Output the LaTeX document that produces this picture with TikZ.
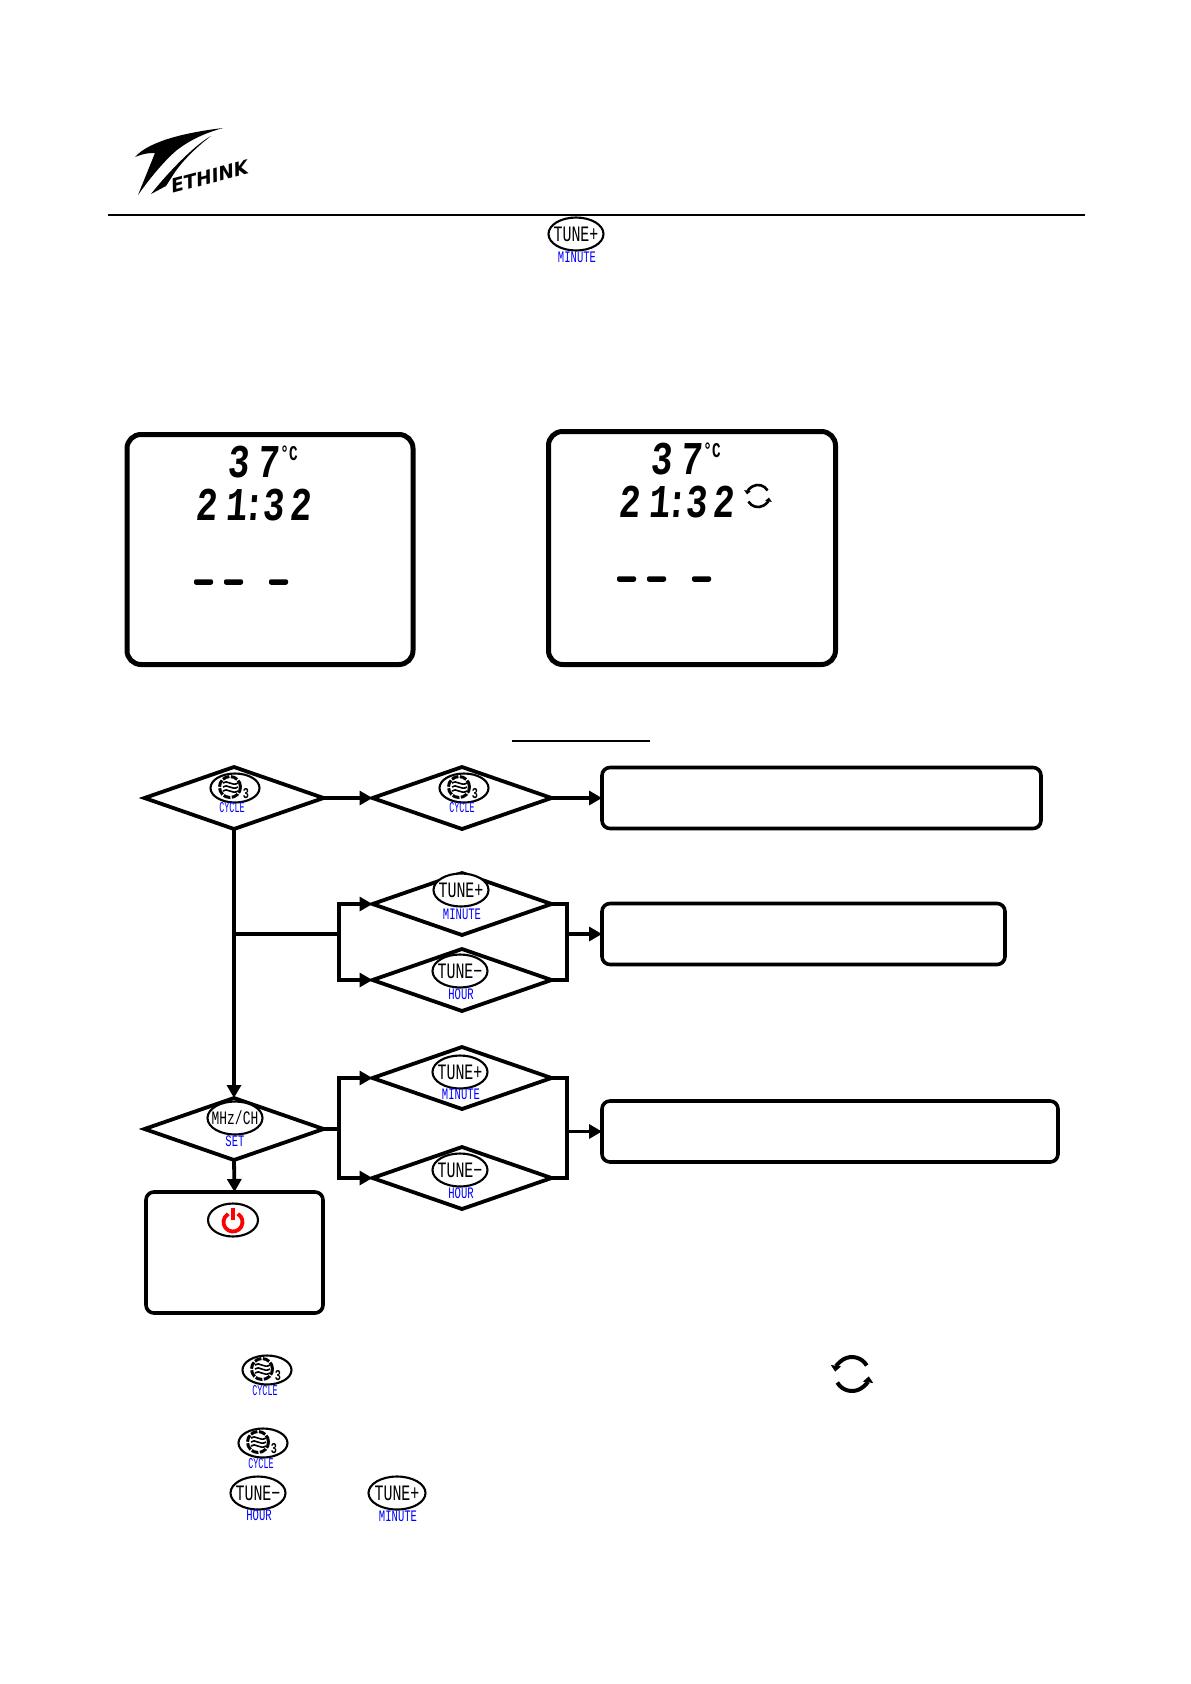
\documentclass[tikz,border=0pt]{standalone}
\usepackage{fontspec}
\usetikzlibrary{shapes.geometric,arrows.meta}
\newfontfamily\keyfont[FakeStretch=.68]{Liberation Mono}
\newfontfamily\capfont[FakeStretch=.66]{Liberation Mono}
\newfontfamily\narrowfont[FakeStretch=.56]{Liberation Mono}
\newfontfamily\lcdfont[FakeStretch=.76,FakeSlant=.08]{Liberation Mono}
\newfontfamily\logofont[FakeSlant=.25]{DejaVu Sans}
\tikzset{
  flow/.style={line width=3.8pt},
  flowarrow/.style={flow,-{Triangle[length=13pt,width=14pt]}},
  question/.style={diamond,draw,line width=3.8pt,minimum width=179pt,minimum height=62pt,inner sep=0pt,outer sep=0pt},
  result/.style={draw,line width=3.6pt,rounded corners=8pt,inner sep=0pt,outer sep=0pt,minimum height=61pt},
  screen/.style={draw,line width=5pt,rounded corners=14pt,inner sep=0pt,outer sep=0pt},
  keyoval/.style={ellipse,draw,fill=white,line width=2.1pt,inner sep=-8pt,minimum width=55pt,minimum height=33pt,
    font={\keyfont\fontsize{22}{22}\selectfont}},
  keycap/.style={inner sep=0pt,text=blue,font={\capfont\fontsize{16}{16}\selectfont}},
  cyclecap/.style={inner sep=0pt,text=blue,font={\narrowfont\fontsize{15}{15}\selectfont}},
  lcddash/.style={fill=black,rounded corners=2pt,inner sep=0pt,minimum width=19pt,minimum height=5.5pt},
  cyclekey/.pic={
    \node[keyoval,minimum width=49pt,minimum height=29pt] (-oval) at (0,0) {};
    \draw[line width=3pt,dash pattern=on 7pt off 1.5pt] (-5,-1) circle[radius=10.5pt];
    \draw[line width=1.6pt] (-12,-5) .. controls (-8,-9) and (-3,-1) .. (3,-5);
    \draw[line width=1.6pt] (-12,-1) .. controls (-8,-5) and (-3,3) .. (3,-1);
    \draw[line width=1.6pt] (-12,3) .. controls (-8,-1) and (-3,7) .. (3,3);
    \node[inner sep=0pt,font={\keyfont\bfseries\fontsize{15}{15}\selectfont}] (-three) at (11,6) {3};
  },
  loopicon/.pic={
    \draw[line width=#1,-{Triangle[length=0pt 1.5,width=0pt 2.5]}] (14.7,-8.5) arc[start angle=30,end angle=172,radius=17pt];
    \draw[line width=#1,-{Triangle[length=0pt 1.5,width=0pt 2.5]}] (-14.7,8.5) arc[start angle=210,end angle=352,radius=17pt];
  },
  powericon/.pic={
    \draw[red,line width=3.8pt] (4.75,-8.2) arc[start angle=60,end angle=-240,radius=9.5pt];
    \draw[red,line width=3.8pt] (0,-14) -- (0,-2);
  },
  lcdreadout/.pic={
    \node[inner sep=0pt,font={\lcdfont\bfseries\fontsize{47}{47}\selectfont}] (-temp) at (-17,-43) {3\kern8.6pt 7};
    \node[inner sep=0pt,font={\keyfont\bfseries\fontsize{21}{21}\selectfont}] (-unit) at (19,-52) {°C};
    \node[inner sep=0pt,font={\lcdfont\bfseries\fontsize{47}{47}\selectfont}] (-time) at (-17,0) {2\kern8.6pt 1\kern-4.4pt:\kern-1.4pt 3\kern5.6pt 2};
    \node[lcddash] (-dashA) at (-66.5,77) {};
    \node[lcddash] (-dashB) at (-36.5,77) {};
    \node[lcddash] (-dashC) at (8.5,77) {};
  }
}
\begin{document}
\begin{tikzpicture}[x=1pt,y=-1pt]
  \useasboundingbox (0,0) rectangle (1191,1684);

  % logo
  \fill (223,128) .. controls (190,132) and (150,140) .. (135,157)
    .. controls (145,153) and (150,153) .. (155,153)
    -- (138,195) .. controls (150,178) and (165,160) .. (177,150) .. controls (190,140) and (205,133) .. cycle;
  \fill (211,136) .. controls (195,145) and (170,170) .. (151,194)
    -- (166,186) -- (175,172) .. controls (185,158) and (198,146) .. cycle;
  \node[inner sep=0pt,rotate=15,font={\logofont\bfseries\fontsize{19}{19}\selectfont}] (brand) at (208,177) {ETHINK};

  % header rule
  \coordinate (ruleL) at (108,215);
  \coordinate (ruleR) at (1085,215);
  \draw[line width=1.6pt] (ruleL) -- (ruleR);
  \node[keyoval] (keyTop) at (576,234) {TUNE+};
  \node[keycap] (capTop) at (577,257) {MINUTE};

  % screens
  \node[screen,minimum width=286pt,minimum height=230pt] (screenA) at (270,549.5) {};
  \node[screen,minimum width=287pt,minimum height=233pt] (screenB) at (692,548) {};
  \pic (readA) at (270,505) {lcdreadout};
  \pic (readB) at (693,502) {lcdreadout};
  \pic at (758,496) [scale=.65] {loopicon=2.6pt};

  % heading rule
  \coordinate (headL) at (512,741);
  \coordinate (headR) at (650,741);
  \draw[line width=1.4pt] (headL) -- (headR);

  % flow chart
  \node[question] (askA) at (234,798) {};
  \node[question] (askB) at (462,798) {};
  \node[question] (askC) at (462,904) {};
  \node[question] (askD) at (462,980) {};
  \node[question] (askE) at (462,1078) {};
  \node[question] (askF) at (462,1178) {};
  \node[question] (askG) at (234,1129) {};
  \node[result,minimum width=439pt] (boxA) at (821.5,798) {};
  \node[result,minimum width=403pt] (boxB) at (803.5,934) {};
  \node[result,minimum width=456pt] (boxC) at (830,1131.5) {};
  \node[result,minimum width=177pt,minimum height=121pt] (boxD) at (234.5,1252.5) {};

  \coordinate (busA) at (339,934);
  \coordinate (busB) at (567,934);
  \coordinate (busC) at (339,1129);
  \coordinate (busD) at (567,1131.5);
  \draw[flowarrow] (askA.east) -- (askB.west);
  \draw[flowarrow] (askB.east) -- (boxA.west);
  \draw[flowarrow] (askA.south) -- (askG.north);
  \draw[flowarrow] (askG.south) -- (boxD.north);
  \draw[flow] (askA.south |- busA) -- (busA);
  \draw[flowarrow] (busA) |- (askC.west);
  \draw[flowarrow] (busA) |- (askD.west);
  \draw[flow] (askC.east) -| (busB);
  \draw[flow] (askD.east) -| (busB);
  \draw[flowarrow] (busB) -- (boxB.west);
  \draw[flow] (askG.east) -- (busC);
  \draw[flowarrow] (busC) |- (askE.west);
  \draw[flowarrow] (busC) |- (askF.west);
  \draw[flow] (askE.east) -| (busD);
  \draw[flow] (askF.east) -| (busD);
  \draw[flowarrow] (busD) -- (boxC.west);

  % keys on the chart
  \pic (cycleA) at (235,788) {cyclekey};
  \node[cyclecap] (capA) at (232,808) {CYCLE};
  \pic (cycleB) at (464,788) {cyclekey};
  \node[cyclecap] (capB) at (462,808) {CYCLE};
  \node[keyoval] (keyC) at (461,890) {TUNE+};
  \node[keycap] (capC) at (462,914) {MINUTE};
  \node[keyoval] (keyD) at (460,971) {TUNE−};
  \node[keycap] (capD) at (461,994) {HOUR};
  \node[keyoval] (keyE) at (460,1072) {TUNE+};
  \node[keycap] (capE) at (461,1094) {MINUTE};
  \node[keyoval] (keyF) at (460,1170) {TUNE−};
  \node[keycap] (capF) at (461,1193) {HOUR};
  \node[keyoval,font={\keyfont\fontsize{19}{19}\selectfont}] (keyG) at (235,1118) {MHz/CH};
  \node[keycap] (capG) at (235,1141) {SET};
  \node[keyoval,minimum width=50pt] (keyPower) at (233,1220) {};
  \pic at (233,1222) {powericon};

  % keys in the notes
  \pic (cycleC) at (267,1370) {cyclekey};
  \node[cyclecap] (capH) at (265,1391) {CYCLE};
  \pic at (852,1374) {loopicon=4pt};
  \pic (cycleD) at (263,1443) {cyclekey};
  \node[cyclecap] (capI) at (261,1464) {CYCLE};
  \node[keyoval] (keyJ) at (258,1493) {TUNE−};
  \node[keycap] (capJ) at (259,1515) {HOUR};
  \node[keyoval,minimum width=57pt] (keyK) at (397,1493) {TUNE+};
  \node[keycap] (capK) at (398,1516) {MINUTE};
\end{tikzpicture}
\end{document}
